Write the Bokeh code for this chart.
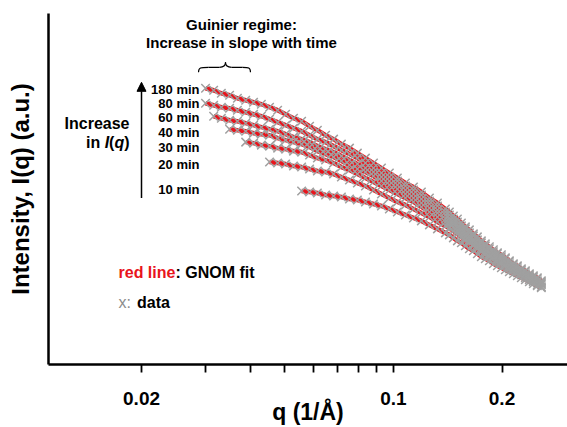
import math
from bokeh.plotting import figure
from bokeh.models import Range1d, LinearScale, Label, Arrow, NormalHead, FixedTicker
from bokeh.embed import file_html
from bokeh.resources import INLINE

# ---------------- data ----------------
# scattering vector q (1/A), shared grid
q = [0.0301, 0.0317, 0.0333, 0.0351, 0.0369, 0.0389, 0.0409, 0.0430, 0.0453, 0.0477,
     0.0502, 0.0528, 0.0556, 0.0585, 0.0615, 0.0648, 0.0682, 0.0717, 0.0755, 0.0794,
     0.0836, 0.0880, 0.0926, 0.0974, 0.1025, 0.1079, 0.1136, 0.1195, 0.1258, 0.1324,
     0.1393, 0.1429, 0.1466, 0.1504, 0.1543, 0.1583, 0.1624, 0.1666, 0.1709, 0.1753,
     0.1798, 0.1845, 0.1893, 0.1942, 0.1992, 0.2043, 0.2096, 0.2150, 0.2206, 0.2263,
     0.2322, 0.2382, 0.2443, 0.2506, 0.2571]

# log10 intensity (a.u.), each series aligned to the END of the q grid
logI_180 = [2.77, 2.75, 2.72, 2.70, 2.67, 2.65, 2.63, 2.61, 2.58, 2.55,
            2.51, 2.47, 2.44, 2.39, 2.35, 2.30, 2.26, 2.21, 2.17, 2.12,
            2.07, 2.02, 1.97, 1.92, 1.87, 1.82, 1.78, 1.73, 1.67, 1.62,
            1.56, 1.53, 1.49, 1.46, 1.42, 1.38, 1.35, 1.31, 1.28, 1.24,
            1.21, 1.18, 1.15, 1.12, 1.10, 1.07, 1.04, 1.01, 0.99, 0.96,
            0.94, 0.91, 0.89, 0.87, 0.84]
logI_80 = [2.62, 2.60, 2.58, 2.57, 2.55, 2.53, 2.51, 2.49, 2.46, 2.43,
           2.40, 2.37, 2.34, 2.30, 2.26, 2.23, 2.19, 2.15, 2.11, 2.07,
           2.02, 1.97, 1.92, 1.88, 1.84, 1.79, 1.75, 1.70, 1.64, 1.59,
           1.53, 1.50, 1.46, 1.43, 1.39, 1.36, 1.32, 1.29, 1.25, 1.22,
           1.19, 1.16, 1.13, 1.11, 1.08, 1.06, 1.03, 1.00, 0.98, 0.95,
           0.93, 0.90, 0.88, 0.86, 0.83]
logI_60 = [2.49, 2.47, 2.45, 2.44, 2.42, 2.40, 2.38, 2.36, 2.34, 2.31,
           2.28, 2.26, 2.23, 2.19, 2.16, 2.13, 2.09, 2.05, 2.01, 1.97,
           1.93, 1.88, 1.84, 1.80, 1.75, 1.71, 1.66, 1.61, 1.55, 1.50,
           1.47, 1.43, 1.40, 1.36, 1.33, 1.29, 1.26, 1.22, 1.19, 1.16,
           1.13, 1.11, 1.08, 1.06, 1.03, 1.01, 0.98, 0.96, 0.94, 0.91,
           0.89, 0.87, 0.84, 0.82]
logI_40 = [2.36, 2.35, 2.34, 2.32, 2.31, 2.30, 2.27, 2.25, 2.23, 2.21,
           2.18, 2.14, 2.11, 2.08, 2.04, 2.00, 1.96, 1.93, 1.89, 1.84,
           1.80, 1.76, 1.71, 1.67, 1.62, 1.57, 1.52, 1.46,
           1.44, 1.41, 1.37, 1.34, 1.30, 1.27, 1.24, 1.20, 1.17, 1.14,
           1.11, 1.09, 1.06, 1.04, 1.01, 0.99, 0.96, 0.94, 0.92, 0.90,
           0.88, 0.85, 0.83, 0.81]
logI_30 = [2.23, 2.22, 2.20, 2.19, 2.17, 2.16, 2.14, 2.13, 2.10, 2.07,
           2.05, 2.02, 1.98, 1.95, 1.91, 1.87, 1.83, 1.79, 1.75, 1.71,
           1.67, 1.63, 1.58, 1.53, 1.48, 1.43,
           1.41, 1.38, 1.34, 1.31, 1.28, 1.25, 1.21, 1.18, 1.15, 1.12,
           1.09, 1.07, 1.05, 1.02, 1.00, 0.98, 0.95, 0.93, 0.91, 0.89,
           0.87, 0.84, 0.82, 0.80]
logI_20 = [2.03, 2.02, 2.01, 1.99, 1.98, 1.96, 1.94, 1.93, 1.91, 1.88,
           1.85, 1.82, 1.79, 1.75, 1.71, 1.67, 1.63, 1.60, 1.56, 1.52,
           1.48, 1.43, 1.39,
           1.37, 1.34, 1.31, 1.28, 1.25, 1.22, 1.19, 1.16, 1.13, 1.10,
           1.08, 1.05, 1.03, 1.01, 0.99, 0.96, 0.94, 0.92, 0.90, 0.87,
           0.85, 0.83, 0.80, 0.78]
logI_10 = [1.74, 1.73, 1.72, 1.70, 1.69, 1.68, 1.66, 1.65, 1.63, 1.61,
           1.59, 1.56, 1.53, 1.50, 1.47, 1.44, 1.40, 1.36, 1.32,
           1.30, 1.27, 1.24, 1.22, 1.19, 1.16, 1.14, 1.11, 1.08, 1.06,
           1.04, 1.01, 0.99, 0.97, 0.95, 0.93, 0.91, 0.89, 0.87, 0.85,
           0.83, 0.81, 0.79, 0.77]

time_labels = ["180 min", "80 min", "60 min", "40 min", "30 min", "20 min", "10 min"]
series = [logI_180, logI_80, logI_60, logI_40, logI_30, logI_20, logI_10]

tick_major = [0.02, 0.1, 0.2]
tick_minor = [0.03, 0.04, 0.05, 0.06, 0.07, 0.08, 0.09]
tick_text = ["0.02", "0.1", "0.2"]

# ---------------- styling ----------------
RED = "#e8141c"
GRAY = "#a0a0a0"
FONT = "Liberation Sans"
W, H = 567, 427
FL, FR, FT, FB = 48, 567, 13, 365

p = figure(width=W, height=H, x_axis_type="log",
           x_range=Range1d(0.01104, 0.3039), y_range=Range1d(0, 3.52),
           output_backend="svg", toolbar_location=None,
           min_border_left=FL, min_border_right=0, min_border_top=FT,
           min_border_bottom=H - FB)
p.outline_line_color = None
p.grid.visible = False
p.background_fill_color = "white"
p.border_fill_color = "white"

# pixel-space helpers for annotations
p.extra_x_ranges = {"px": Range1d(FL, FR)}
p.extra_y_ranges = {"py": Range1d(FB, FT)}
p.extra_x_scales = {"px": LinearScale()}
p.extra_y_scales = {"py": LinearScale()}

# fits first, data crosses on top
for vals in series:
    qs = q[len(q) - len(vals):]
    p.line(qs, vals, line_color=RED, line_width=4.5)
for vals in series:
    qs = q[len(q) - len(vals):]
    p.scatter(qs, vals, marker="x", size=12, line_color=GRAY, line_width=1.5)

# axes
xa = p.xaxis[0]
xa.ticker = FixedTicker(ticks=tick_major, minor_ticks=tick_minor)
xa.major_label_overrides = {t: s for t, s in zip(tick_major, tick_text)}
xa.major_label_text_font = FONT
xa.major_label_text_font_style = "bold"
xa.major_label_text_font_size = "19px"
xa.major_label_text_color = "black"
xa.major_label_standoff = 19
xa.axis_line_width = 2.5
xa.axis_line_color = "black"
xa.major_tick_out = 8
xa.major_tick_in = 0
xa.minor_tick_out = 8
xa.minor_tick_in = 0
xa.major_tick_line_width = 1.8
xa.minor_tick_line_width = 1.8
xa.major_tick_line_color = "black"
xa.minor_tick_line_color = "black"
xa.axis_label = "q (1/Å)"
xa.axis_label_text_font = FONT
xa.axis_label_text_font_style = "bold"
xa.axis_label_text_font_size = "23px"
xa.axis_label_text_color = "black"
xa.axis_label_standoff = -9

ya = p.yaxis[0]
ya.ticker = FixedTicker(ticks=[])
ya.major_label_text_font_size = "0px"
ya.major_tick_out = 0
ya.minor_tick_out = 0
ya.axis_line_width = 2.5
ya.axis_line_color = "black"
ya.axis_label = "Intensity, I(q) (a.u.)"
ya.axis_label_text_font = FONT
ya.axis_label_text_font_style = "bold"
ya.axis_label_text_font_size = "24px"
ya.axis_label_text_color = "black"
ya.axis_label_standoff = 15


def txt(text, X, Y, size, color="black", style="bold", align="left",
        baseline="middle", angle=0.0):
    p.add_layout(Label(x=X, y=Y, x_range_name="px", y_range_name="py",
                       text=text, text_font=FONT, text_font_style=style,
                       text_font_size=f"{size}px", text_color=color,
                       text_align=align, text_baseline=baseline, angle=angle))


# Guinier annotation
txt("Guinier regime:", 241, 24, 15, align="center")
txt("Increase in slope with time", 241, 42, 15, align="center")
p.bezier(x0=[198, 208, 219, 225, 231, 242], y0=[72, 67, 67, 62, 67, 67],
         x1=[208, 219, 225, 231, 242, 250], y1=[67, 67, 62, 67, 67, 72],
         cx0=[198, 212, 223, 225, 235, 248], cy0=[67, 67, 67, 65, 67, 67],
         cx1=[200, 215, 225, 227, 238, 250], cy1=[67, 67, 65, 67, 67, 67],
         x_range_name="px", y_range_name="py", line_color="black", line_width=1.2)

# time labels
for lab, yy in zip(time_labels, [89, 103, 117, 132, 147, 164, 189]):
    txt(lab, 199, yy, 13, align="right")

# increase arrow
p.add_layout(Arrow(x_start=141, y_start=198, x_end=141, y_end=82,
                   x_range_name="px", y_range_name="py",
                   line_color="black", line_width=1.5,
                   end=NormalHead(size=9, fill_color="black", line_color="black")))
txt("Increase", 129, 123, 16, align="right")
txt("in", 85.5, 142, 16)
txt("I", 104.2, 142, 16, style="bold italic")
txt("(", 108.6, 142, 16)
txt("q", 113.9, 142, 16, style="bold italic")
txt(")", 123.7, 142, 16)

# legend text
txt("red line", 118, 273, 16, color=RED)
txt(": GNOM fit", 175, 273, 16)
txt("x:", 118, 303, 16, color="#8c8c8c", style="normal")
txt("data", 136.6, 303, 16)

open("out.html", "w").write(file_html(p, INLINE))
